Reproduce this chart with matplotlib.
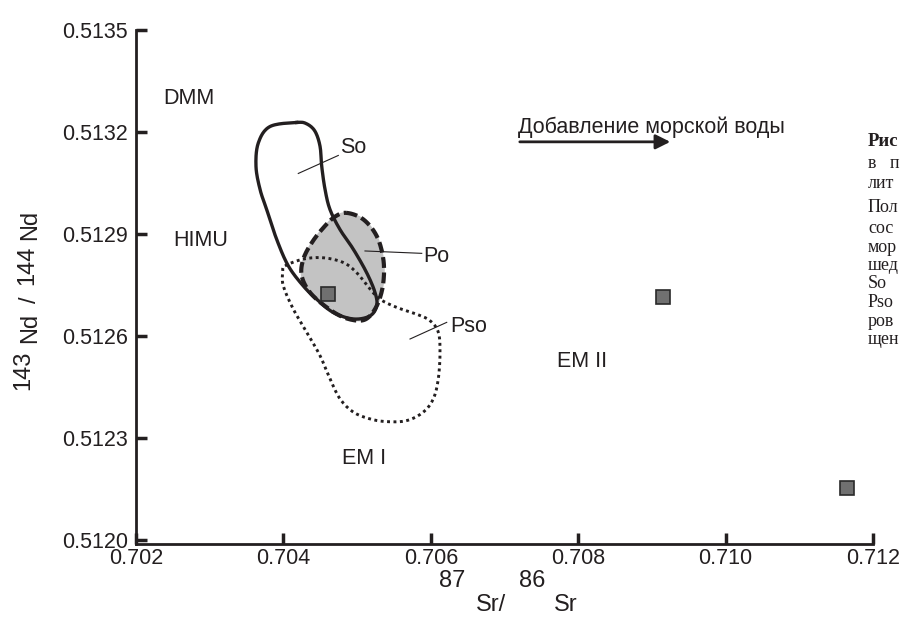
import numpy as np
import matplotlib
matplotlib.use("Agg")
import matplotlib.pyplot as plt

plt.rcParams['font.family'] = ['Liberation Sans', 'DejaVu Sans']

# --- data ---
x_ticks = [0.702, 0.704, 0.706, 0.708, 0.710, 0.712]
y_ticks = [0.5120, 0.5123, 0.5126, 0.5129, 0.5132, 0.5135]

# samples (squares)
smp_x = [0.70460, 0.70915, 0.71165]
smp_y = [0.512723, 0.512714, 0.512154]

# So field (solid outline)
so_x = [0.704181, 0.703818, 0.703660, 0.703628, 0.703683, 0.703773, 0.703909, 0.704067,
        0.704270, 0.704452, 0.704677, 0.704949, 0.705175, 0.705266, 0.705243, 0.705130,
        0.704949, 0.704768, 0.704632, 0.704565, 0.704520, 0.704497, 0.704429, 0.704316]
so_y = [0.513228, 0.513216, 0.513168, 0.513099, 0.513031, 0.512972, 0.512884, 0.512806,
        0.512747, 0.512708, 0.512669, 0.512650, 0.512659, 0.512689, 0.512728, 0.512786,
        0.512855, 0.512913, 0.512972, 0.513031, 0.513099, 0.513158, 0.513202, 0.513224]

# Po field (dashed outline, grey fill)
po_x = [0.704859, 0.705084, 0.705266, 0.705356, 0.705356, 0.705288, 0.705175, 0.705039,
        0.704813, 0.704588, 0.704361, 0.704248, 0.704270, 0.704384, 0.704541, 0.704700]
po_y = [0.512962, 0.512943, 0.512894, 0.512826, 0.512757, 0.512699, 0.512659, 0.512645,
        0.512655, 0.512684, 0.512728, 0.512777, 0.512826, 0.512874, 0.512918, 0.512951]

# Pso field (dotted outline)
pso_x = [0.704022, 0.704270, 0.704541, 0.704813, 0.704995, 0.705175, 0.705311, 0.705537,
         0.705809, 0.705989, 0.706102, 0.706125, 0.706102, 0.706034, 0.705898, 0.705673,
         0.705402, 0.705175, 0.704949, 0.704768, 0.704632, 0.704497, 0.704316, 0.704134,
         0.703999, 0.703991]
pso_y = [0.512806, 0.512826, 0.512830, 0.512816, 0.512786, 0.512738, 0.512708, 0.512684,
         0.512664, 0.512645, 0.512611, 0.512552, 0.512474, 0.512415, 0.512376, 0.512351,
         0.512348, 0.512356, 0.512376, 0.512415, 0.512474, 0.512542, 0.512611, 0.512679,
         0.512747, 0.512787]

# field labels: text, x, y
labels = [("DMM", 0.702366, 0.513298), ("HIMU", 0.702502, 0.512881),
          ("So", 0.704768, 0.513154), ("Po", 0.705894, 0.512835),
          ("Pso", 0.706261, 0.512629), ("EM II", 0.707713, 0.512526),
          ("EM I", 0.704795, 0.512239)]
# leader lines: (x0, y0, x1, y1)
leaders = [(0.704202, 0.513078, 0.704745, 0.513131),
           (0.705107, 0.512850, 0.705877, 0.512843),
           (0.705718, 0.512591, 0.706216, 0.512640)]

arrow_text = "Добавление морской воды"
caption = ["Рис", "в   п", "лит", "Пол", "сос", "мор", "шед", "So", "Pso", "ров", "щен"]

ink = '#231f20'


def smooth_closed(xs, ys, n=14):
    # closed Catmull-Rom through the traced outline points
    p = np.column_stack([xs, ys])
    N = len(p)
    out = []
    for i in range(N):
        p0, p1, p2, p3 = p[(i - 1) % N], p[i], p[(i + 1) % N], p[(i + 2) % N]
        for t in np.linspace(0, 1, n, endpoint=False):
            t2 = t * t
            t3 = t2 * t
            out.append(0.5 * (2 * p1 + (-p0 + p2) * t + (2 * p0 - 5 * p1 + 4 * p2 - p3) * t2
                              + (-p0 + 3 * p1 - 3 * p2 + p3) * t3))
    out.append(out[0])
    out = np.array(out)
    return out[:, 0], out[:, 1]


fig = plt.figure(figsize=(9.01, 6.21), dpi=100)
ax = fig.add_axes([136 / 901, 1 - 544 / 621, 737 / 901, 514 / 621])
ax.set_xlim(0.702, 0.712)
ax.set_ylim(0.511988, 0.5135)

# fields
px, py = smooth_closed(po_x, po_y)
ax.fill(px, py, color='#c3c3c3', zorder=1)
sx, sy = smooth_closed(pso_x, pso_y)
ax.plot(sx, sy, color=ink, lw=2.1, ls=(0, (1, 1.2)), zorder=2)
qx, qy = smooth_closed(so_x, so_y)
ax.plot(qx, qy, color=ink, lw=2.4, zorder=3, solid_joinstyle='round')
ax.plot(px, py, color=ink, lw=3.0, ls=(0, (2.6, 1.1)), zorder=4)

for x0, y0, x1, y1 in leaders:
    ax.plot([x0, x1], [y0, y1], color=ink, lw=0.8, zorder=5)

ax.plot(smp_x, smp_y, 's', ms=10, mfc='#707070', mec='#2a2a2a', mew=1.2, zorder=6)

for t, x, y in labels:
    ax.text(x, y, t, fontsize=15.5, color=ink, ha='left', va='center', zorder=7)

ax.annotate('', xy=(0.709287, 0.513171), xytext=(0.70717, 0.513171),
            arrowprops=dict(arrowstyle='-|>', color=ink, lw=2, mutation_scale=22))
ax.text(0.707183, 0.513215, arrow_text, fontsize=15.5, color=ink, ha='left', va='center')

# axes look
for s in ['top', 'right']:
    ax.spines[s].set_visible(False)
for s in ['left', 'bottom']:
    ax.spines[s].set_linewidth(2.0)
    ax.spines[s].set_color(ink)
ax.set_xticks(x_ticks)
ax.set_xticklabels(['%.3f' % v for v in x_ticks])
ax.set_yticks(y_ticks)
ax.set_yticklabels(['%.4f' % v for v in y_ticks])
ax.tick_params(direction='in', length=8, width=2.5, color=ink, labelsize=15.5,
               labelcolor=ink)
ax.tick_params(axis='x', pad=3)
ax.tick_params(axis='y', pad=6)


def fpx(x, y):
    return x / 901, 1 - y / 621


# axis titles built from pieces (raised isotope numbers)
for t, x, y in [("87", 452, 581), ("Sr/", 491, 605), ("86", 532, 581), ("Sr", 566, 605)]:
    fig.text(*fpx(x, y), t, fontsize=17, color=ink, ha='center', va='center')
for t, x, y in [("143", 23, 370), ("Nd", 30, 328), ("/", 30, 300), ("144", 27, 265), ("Nd", 30, 225)]:
    fig.text(*fpx(x, y), t, fontsize=17, color=ink, ha='center', va='center', rotation=90)

# caption fragment cut off at the right edge
cap_y = [142, 163, 183, 208, 228, 248, 266, 283, 303, 322, 340]
for i, (t, y) in enumerate(zip(caption, cap_y)):
    fig.text(*fpx(868, y), t, fontsize=13.5 if i == 0 else 13, color=ink, ha='left', va='center',
             family='Liberation Serif', fontweight='bold' if i == 0 else 'normal')

fig.savefig('out.png', dpi=100)
